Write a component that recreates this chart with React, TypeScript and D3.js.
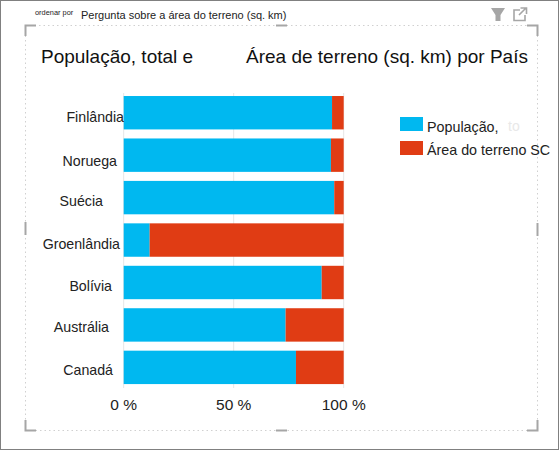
import { useEffect, useRef } from "react";
import * as d3 from "d3";

const paises = ["Finlândia", "Noruega", "Suécia", "Groenlândia", "Bolívia", "Austrália", "Canadá"];
const populacao = [94.7, 94.2, 95.7, 11.8, 90, 73.6, 78.3];
const area = [5.3, 5.8, 4.3, 88.2, 10, 26.4, 21.7];
const series = ["População,", "Área do terreno SC"];
const cores = ["#00b8f0", "#e03c14"];
const ticks = [0, 50, 100];

const W = 559;
const H = 450;
const FONT = "'Liberation Sans', Arial, sans-serif";

export default function App() {
  const svgRef = useRef<SVGSVGElement | null>(null);

  useEffect(() => {
    if (!svgRef.current) return;
    const svg = d3.select(svgRef.current);
    svg.selectAll("*").remove();
    svg.attr("font-family", FONT);

    // moldura externa
    svg.append("rect").attr("x", 0.5).attr("y", 0.5).attr("width", W - 1).attr("height", H - 1)
      .attr("fill", "#fff").attr("stroke", "#808080");

    // foco do visual: pontilhado, cantos e alças
    svg.append("rect").attr("x", 25.5).attr("y", 25.5).attr("width", 512).attr("height", 405)
      .attr("fill", "none").attr("stroke", "#d0d0d0").attr("stroke-dasharray", "1.5 3");
    const cantos = [
      "M25.5 36V25.5H36",
      "M527 25.5H537.5V36",
      "M25.5 420V430.5H36",
      "M527 430.5H537.5V420",
      "M276 25.5H287",
      "M276 430.5H287",
      "M25.5 222V235",
      "M537.5 223V236",
    ];
    cantos.forEach((d) => {
      svg.append("path").attr("d", d).attr("fill", "none").attr("stroke", "#a6a6a6").attr("stroke-width", 2);
    });

    svg.append("text").attr("x", 35).attr("y", 15).attr("font-size", 7.4).attr("fill", "#222").text("ordenar por");
    svg.append("text").attr("x", 81).attr("y", 19).attr("font-size", 11).attr("fill", "#222")
      .text("Pergunta sobre a área do terreno (sq. km)");

    svg.append("text").attr("x", 41).attr("y", 63).attr("font-size", 19).attr("fill", "#111").text("População, total e");
    svg.append("text").attr("x", 246).attr("y", 63).attr("font-size", 19).attr("fill", "#111")
      .text("Área de terreno (sq. km) por País");

    const x = d3.scaleLinear().domain([0, 100]).range([123.7, 343.7]);
    const y = d3.scaleBand().domain(paises).range([91.5, 388.6]).paddingInner(0.213).paddingOuter(0.1065);

    const grid = svg.append("g");
    ticks.forEach((t) => {
      grid.append("line").attr("x1", x(t)).attr("x2", x(t)).attr("y1", 93).attr("y2", 388)
        .attr("stroke", "#e6e6e6");
    });

    const linhas = paises.map((p, i) => ({ pais: p, pop: populacao[i], area: area[i] }));
    const stack = d3.stack<any>().keys(["pop", "area"])(linhas);
    stack.forEach((camada, i) => {
      svg.append("g").attr("fill", cores[i]).selectAll("rect").data(camada).join("rect")
        .attr("x", (d) => x(d[0]))
        .attr("width", (d) => x(d[1]) - x(d[0]))
        .attr("y", (d) => y(d.data.pais)!)
        .attr("height", y.bandwidth());
    });

    // os rótulos do original não estão alinhados
    const labelX = [124, 117, 103, 120, 112, 109, 113];
    const labelDy = [9.3, 10.7, 8, 8.5, 9, 7.5, 7.6];
    paises.forEach((p, i) => {
      svg.append("text").attr("x", labelX[i]).attr("y", y(p)! + y.bandwidth() / 2 + labelDy[i])
        .attr("text-anchor", "end").attr("font-size", 14.2).attr("fill", "#222").text(p);
    });

    ticks.forEach((t) => {
      svg.append("text").attr("x", x(t)).attr("y", 409.5).attr("text-anchor", "middle")
        .attr("font-size", 15.5).attr("fill", "#222").text(`${t} %`);
    });

    // legenda
    series.forEach((s, i) => {
      svg.append("rect").attr("x", 400).attr("y", 117 + i * 24).attr("width", 23).attr("height", 14).attr("fill", cores[i]);
      svg.append("text").attr("x", 427).attr("y", 132 + i * 22.5).attr("font-size", 14.3).attr("fill", "#222").text(s);
    });
    svg.append("text").attr("x", 508).attr("y", 131).attr("font-size", 14).attr("fill", "#e8e8e8").text("to");

    // icones
    svg.append("path").attr("d", "M491 8H505L500.5 15V21H495.5V15Z").attr("fill", "#a6a6a6");
    svg.append("path").attr("d", "M520 10H514V20.5H525V15M519 15L526 8M520.5 8H526.5V14").attr("fill", "none")
      .attr("stroke", "#a6a6a6").attr("stroke-width", 1.6);
  }, []);

  return <svg ref={svgRef} width={W} height={H} style={{ position: "absolute", left: 0, top: 0 }} />;
}
